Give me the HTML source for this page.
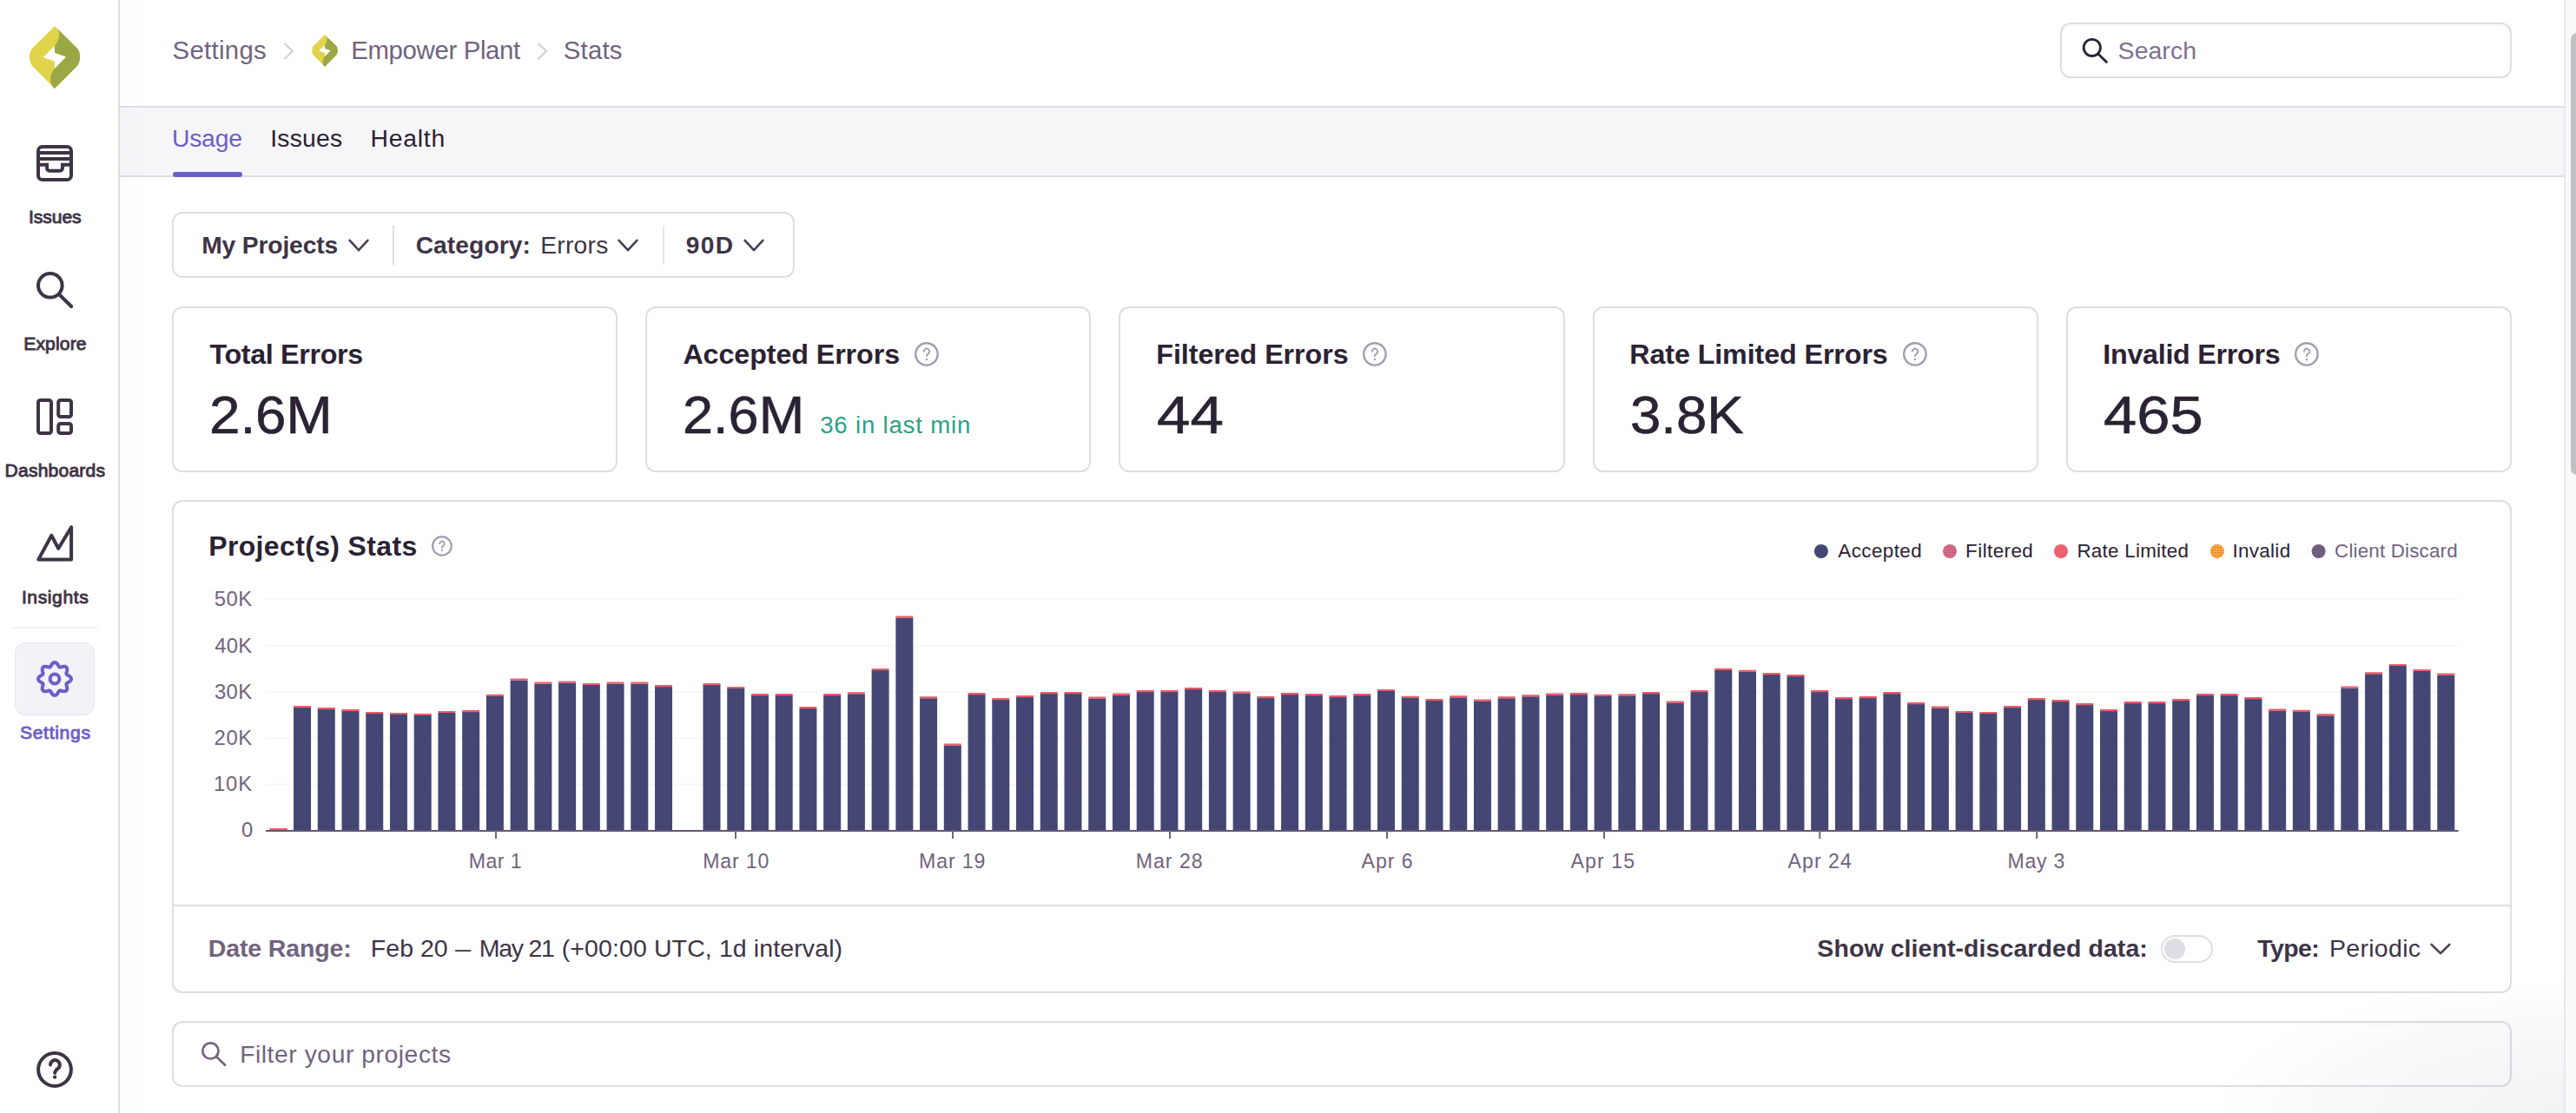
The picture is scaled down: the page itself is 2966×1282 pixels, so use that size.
<!DOCTYPE html><html lang="en"><head><meta charset="utf-8"><title>Stats - Empower Plant - Sentry</title><style>
*{box-sizing:border-box;margin:0;padding:0}
html,body{width:2966px;height:1282px;overflow:hidden;background:#fff}
body{position:relative;font-family:"Liberation Sans",sans-serif;color:#2b2233}
.t{position:absolute;white-space:nowrap;line-height:1}
.abs{position:absolute}
.box{position:absolute;border:2px solid #e0dce5;border-radius:12px;background:#fff}
svg{overflow:visible}
</style></head><body>
<div class="abs" style="left:138px;top:0;width:2814px;height:122px;background:#fff;border-bottom:0"></div>
<div class="abs" style="left:138px;top:122px;width:2814px;height:2px;background:#e0dce5"></div>
<div class="abs" style="left:138px;top:124px;width:2814px;height:78px;background:#f6f6f9"></div>
<div class="abs" style="left:138px;top:202px;width:2814px;height:2px;background:#e0dce5"></div>
<div class="abs" style="left:138px;top:0;width:36px;height:1282px;background:linear-gradient(90deg,rgba(43,34,51,.012),rgba(43,34,51,0))"></div>
<nav class="abs" style="left:0;top:0;width:138px;height:1282px;background:#fff;border-right:2px solid #e0dce5">
<svg class="abs" style="left:34px;top:30px" width="58" height="72" viewBox="200 155 645 800"><path fill="#e1d44c" d="M522 155 L235 440 Q200 478 200 550 Q200 625 235 665 L522 955 L810 665 Q845 625 845 550 Q845 478 810 440 Z"/><path fill="#9ba645" d="M558 191 L810 440 Q845 478 845 550 Q845 625 810 665 L522 955 L487 920 C452 840 468 762 522 700 L522 410 C582 330 598 262 558 191 Z"/><path fill="#fff" d="M520 410 L522 497 L668 550 L522 700 L522 610 L375 555 Z"/></svg>
<svg class="abs" style="left:42px;top:167px" width="42" height="42" viewBox="0 0 42 42" fill="none" stroke="#3e3446" stroke-width="4" stroke-linejoin="round"><rect x="2" y="2" width="38" height="38" rx="4.8"/><path stroke-linejoin="miter" d="M2 8.9H40M2 15.9H40M2 22.8H12.1V26.9a2.8 2.8 0 0 0 2.8 2.8H27.1a2.8 2.8 0 0 0 2.8-2.8V22.8H40"/></svg>
<svg class="abs" style="left:42px;top:313px" width="42" height="42" viewBox="0 0 42 42" fill="none" stroke="#3e3446" stroke-width="4" stroke-linecap="round"><circle cx="15.8" cy="15.8" r="13.8"/><path d="M26 26L40.2 40"/></svg>
<svg class="abs" style="left:42px;top:459px" width="42" height="42" viewBox="0 0 42 42" fill="none" stroke="#3e3446" stroke-width="4" stroke-linejoin="round"><rect x="2" y="2" width="15" height="38" rx="2.6"/><rect x="25.2" y="2" width="14.8" height="19" rx="2.6"/><rect x="25.2" y="29" width="14.8" height="11" rx="2.6"/></svg>
<svg class="abs" style="left:42px;top:605px" width="42" height="42" viewBox="0 0 42 42" fill="none" stroke="#3e3446" stroke-width="4" stroke-linejoin="round" stroke-linecap="round"><path d="M2.2 39.6L17.3 11.8L25.2 26.7L40.1 2.2V39.6Z"/></svg>
<div class="abs" style="left:14px;top:722.2px;width:98px;height:1.6px;background:#efedf2"></div>
<div class="abs" style="left:17px;top:740px;width:92px;height:83.5px;border-radius:12px;background:#f3f2f9;border:1.5px solid #e6e3f0"></div>
<svg class="abs" style="left:42px;top:761px" width="42" height="42" viewBox="0 0 42 42" fill="none" stroke="#6c5fc7" stroke-width="4" stroke-linejoin="round"><path d="M21.00 2.00L21.74 2.11L22.46 2.42L23.14 2.91L23.76 3.55L24.32 4.29L24.82 5.07L25.27 5.84L25.70 6.55L26.12 7.13L26.59 7.51L27.19 7.57L27.90 7.46L28.70 7.26L29.56 7.03L30.47 6.83L31.39 6.71L32.28 6.69L33.11 6.83L33.83 7.12L34.44 7.56L34.88 8.17L35.17 8.89L35.31 9.72L35.29 10.61L35.17 11.53L34.97 12.44L34.74 13.30L34.54 14.10L34.43 14.81L34.49 15.41L34.87 15.88L35.45 16.30L36.16 16.73L36.93 17.18L37.71 17.68L38.45 18.24L39.09 18.86L39.58 19.54L39.89 20.26L40.00 21.00L39.89 21.74L39.58 22.46L39.09 23.14L38.45 23.76L37.71 24.32L36.93 24.82L36.16 25.27L35.45 25.70L34.87 26.12L34.49 26.59L34.43 27.19L34.54 27.90L34.74 28.70L34.97 29.56L35.17 30.47L35.29 31.39L35.31 32.28L35.17 33.11L34.88 33.83L34.44 34.44L33.83 34.88L33.11 35.17L32.28 35.31L31.39 35.29L30.47 35.17L29.56 34.97L28.70 34.74L27.90 34.54L27.19 34.43L26.59 34.49L26.12 34.87L25.70 35.45L25.27 36.16L24.82 36.93L24.32 37.71L23.76 38.45L23.14 39.09L22.46 39.58L21.74 39.89L21.00 40.00L20.26 39.89L19.54 39.58L18.86 39.09L18.24 38.45L17.68 37.71L17.18 36.93L16.73 36.16L16.30 35.45L15.88 34.87L15.41 34.49L14.81 34.43L14.10 34.54L13.30 34.74L12.44 34.97L11.53 35.17L10.61 35.29L9.72 35.31L8.89 35.17L8.17 34.88L7.56 34.44L7.12 33.83L6.83 33.11L6.69 32.28L6.71 31.39L6.83 30.47L7.03 29.56L7.26 28.70L7.46 27.90L7.57 27.19L7.51 26.59L7.13 26.12L6.55 25.70L5.84 25.27L5.07 24.82L4.29 24.32L3.55 23.76L2.91 23.14L2.42 22.46L2.11 21.74L2.00 21.00L2.11 20.26L2.42 19.54L2.91 18.86L3.55 18.24L4.29 17.68L5.07 17.18L5.84 16.73L6.55 16.30L7.13 15.88L7.51 15.41L7.57 14.81L7.46 14.10L7.26 13.30L7.03 12.44L6.83 11.53L6.71 10.61L6.69 9.72L6.83 8.89L7.12 8.17L7.56 7.56L8.17 7.12L8.89 6.83L9.72 6.69L10.61 6.71L11.53 6.83L12.44 7.03L13.30 7.26L14.10 7.46L14.81 7.57L15.41 7.51L15.88 7.13L16.30 6.55L16.73 5.84L17.18 5.07L17.68 4.29L18.24 3.55L18.86 2.91L19.54 2.42L20.26 2.11L21.00 2.00Z"/><circle cx="21" cy="21" r="5.4"/></svg>
<svg class="abs" style="left:42px;top:1211px" width="42" height="42" viewBox="0 0 42 42" fill="none" stroke="#3e3446" stroke-width="4" stroke-linecap="round" stroke-linejoin="round"><circle cx="21" cy="21" r="18.9"/><path d="M16 15.5a5.4 5.4 0 1 1 8.6 4.4c-2.2 1.6-3.4 2.6-3.4 5.2"/><circle cx="21.1" cy="29.6" r="1.4" fill="#3e3446" stroke-width="1.6"/></svg>
<span class="t " style="left:32.90px;top:239.46px;font-size:21.08px;color:#3e3446;letter-spacing:-0.035px;-webkit-text-stroke:0.9px #3e3446;">Issues</span>
<span class="t " style="left:27.21px;top:385.26px;font-size:21.08px;color:#3e3446;letter-spacing:0.147px;-webkit-text-stroke:0.9px #3e3446;">Explore</span>
<span class="t " style="left:5.61px;top:531.16px;font-size:21.08px;color:#3e3446;letter-spacing:0.192px;-webkit-text-stroke:0.9px #3e3446;">Dashboards</span>
<span class="t " style="left:24.90px;top:677.36px;font-size:21.08px;color:#3e3446;letter-spacing:0.604px;-webkit-text-stroke:0.9px #3e3446;">Insights</span>
<span class="t " style="left:22.95px;top:833.36px;font-size:21.08px;color:#6c5fc7;letter-spacing:0.700px;-webkit-text-stroke:0.9px #6c5fc7;">Settings</span>
</nav>
<header>
<span class="t " style="left:198.58px;top:42.95px;font-size:29.36px;color:#71637e;letter-spacing:0.287px;">Settings</span>
<svg class="abs" style="left:324px;top:47px" width="18" height="24" viewBox="0 0 18 24" fill="none" stroke="#d3cedb" stroke-width="2.2" stroke-linecap="round" stroke-linejoin="round"><path d="M4 3.5L13 12L4 20.5"/></svg>
<svg class="abs" style="left:359.2px;top:39.8px" width="30" height="36.8" viewBox="200 155 645 800"><path fill="#e1d44c" d="M522 155 L235 440 Q200 478 200 550 Q200 625 235 665 L522 955 L810 665 Q845 625 845 550 Q845 478 810 440 Z"/><path fill="#9ba645" d="M558 191 L810 440 Q845 478 845 550 Q845 625 810 665 L522 955 L487 920 C452 840 468 762 522 700 L522 410 C582 330 598 262 558 191 Z"/><path fill="#fff" d="M520 410 L522 497 L668 550 L522 700 L522 610 L375 555 Z"/></svg>
<span class="t " style="left:404.15px;top:42.95px;font-size:29.36px;color:#71637e;letter-spacing:-0.331px;">Empower Plant</span>
<svg class="abs" style="left:616px;top:47px" width="18" height="24" viewBox="0 0 18 24" fill="none" stroke="#d3cedb" stroke-width="2.2" stroke-linecap="round" stroke-linejoin="round"><path d="M4 3.5L13 12L4 20.5"/></svg>
<span class="t " style="left:648.78px;top:42.95px;font-size:29.36px;color:#71637e;letter-spacing:0.202px;">Stats</span>
<div class="box" style="left:2372px;top:26px;width:520px;height:63.5px;box-shadow:inset 0 2px 2px rgba(43,34,51,.03)"></div>
<svg class="abs" style="left:2396px;top:43px" width="32" height="32" viewBox="0 0 32 32" fill="none" stroke="#2b2233" stroke-width="2.8" stroke-linecap="round"><circle cx="12.8" cy="11.9" r="9.6"/><path d="M19.8 19L29.5 28.4"/></svg>
<span class="t " style="left:2438.62px;top:43.98px;font-size:28.49px;color:#80708f;letter-spacing:0.025px;">Search</span>
</header>
<span class="t " style="left:197.97px;top:145.31px;font-size:28.34px;color:#6c5fc7;letter-spacing:-0.238px;">Usage</span>
<div class="abs" style="left:198.5px;top:197.8px;width:80.7px;height:6.2px;border-radius:3.1px;background:#6c5fc7"></div>
<span class="t " style="left:311.25px;top:145.31px;font-size:28.34px;color:#2b2233;letter-spacing:0.206px;">Issues</span>
<span class="t " style="left:426.53px;top:145.31px;font-size:28.34px;color:#2b2233;letter-spacing:0.771px;">Health</span>
<div class="box" style="left:198px;top:244px;width:717px;height:76px"></div>
<span class="t " style="left:232.17px;top:267.83px;font-size:28.20px;color:#3e3446;letter-spacing:-0.123px;font-weight:700;">My Projects</span>
<svg class="abs" style="left:401px;top:275px" width="24" height="15" viewBox="0 0 24 15" fill="none" stroke="#4a3f55" stroke-width="2.6" stroke-linecap="round" stroke-linejoin="round"><path d="M1.6 1.8L12.0 13.2L22.4 1.8"/></svg>
<div class="abs" style="left:452px;top:259.5px;width:2px;height:45px;background:#e0dce5"></div>
<span class="t " style="left:478.67px;top:267.83px;font-size:28.20px;color:#3e3446;letter-spacing:0.090px;font-weight:700;">Category:</span>
<span class="t " style="left:622.14px;top:267.83px;font-size:28.20px;color:#3e3446;letter-spacing:0.289px;">Errors</span>
<svg class="abs" style="left:711px;top:275px" width="24" height="15" viewBox="0 0 24 15" fill="none" stroke="#4a3f55" stroke-width="2.6" stroke-linecap="round" stroke-linejoin="round"><path d="M1.6 1.8L12.0 13.2L22.4 1.8"/></svg>
<div class="abs" style="left:762.6px;top:259.5px;width:2px;height:45px;background:#e8e5ec"></div>
<span class="t " style="left:789.81px;top:267.83px;font-size:28.20px;color:#3e3446;letter-spacing:1.357px;font-weight:700;">90D</span>
<svg class="abs" style="left:855.5px;top:275px" width="24" height="15" viewBox="0 0 24 15" fill="none" stroke="#4a3f55" stroke-width="2.6" stroke-linecap="round" stroke-linejoin="round"><path d="M1.6 1.8L12.0 13.2L22.4 1.8"/></svg>
<div class="box" style="left:198.0px;top:352.5px;width:513.2px;height:191px"></div>
<div class="box" style="left:743.2px;top:352.5px;width:513.2px;height:191px"></div>
<div class="box" style="left:1288.4px;top:352.5px;width:513.2px;height:191px"></div>
<div class="box" style="left:1833.6px;top:352.5px;width:513.2px;height:191px"></div>
<div class="box" style="left:2378.8px;top:352.5px;width:513.2px;height:191px"></div>
<span class="t " style="left:241.48px;top:391.79px;font-size:32.27px;color:#2b2233;letter-spacing:-0.338px;font-weight:700;">Total Errors</span>
<span class="t " style="left:240.52px;top:447.39px;font-size:61.92px;color:#2b2233;-webkit-text-stroke:0.6px #2b2233;transform:scaleX(1.0284);transform-origin:0 50%;">2.6M</span>
<span class="t " style="left:786.39px;top:391.79px;font-size:32.27px;color:#2b2233;letter-spacing:-0.096px;font-weight:700;">Accepted Errors</span>
<svg class="abs" style="left:1053.3px;top:393.7px" width="27.8" height="27.8" viewBox="0 0 27 27" fill="none" stroke="#a29cb0" stroke-width="2.33" stroke-linecap="round" stroke-linejoin="round"><circle cx="13.5" cy="13.5" r="12.33"/><path stroke-width="1.85" d="M10.5 10.4a3.1 3.1 0 1 1 4.9 2.6c-1.3 .9-1.9 1.5-1.9 2.9"/><circle cx="13.5" cy="19.4" r="0.6" fill="#a29cb0" stroke-width="1.2"/></svg>
<span class="t " style="left:786.15px;top:447.39px;font-size:61.92px;color:#2b2233;-webkit-text-stroke:0.6px #2b2233;transform:scaleX(1.0184);transform-origin:0 50%;">2.6M</span>
<span class="t " style="left:1331.30px;top:391.79px;font-size:32.27px;color:#2b2233;letter-spacing:-0.074px;font-weight:700;">Filtered Errors</span>
<svg class="abs" style="left:1569.3px;top:393.7px" width="27.8" height="27.8" viewBox="0 0 27 27" fill="none" stroke="#a29cb0" stroke-width="2.33" stroke-linecap="round" stroke-linejoin="round"><circle cx="13.5" cy="13.5" r="12.33"/><path stroke-width="1.85" d="M10.5 10.4a3.1 3.1 0 1 1 4.9 2.6c-1.3 .9-1.9 1.5-1.9 2.9"/><circle cx="13.5" cy="19.4" r="0.6" fill="#a29cb0" stroke-width="1.2"/></svg>
<span class="t " style="left:1332.02px;top:447.39px;font-size:61.92px;color:#2b2233;-webkit-text-stroke:0.6px #2b2233;transform:scaleX(1.1176);transform-origin:0 50%;">44</span>
<span class="t " style="left:1876.30px;top:391.79px;font-size:32.27px;color:#2b2233;letter-spacing:-0.109px;font-weight:700;">Rate Limited Errors</span>
<svg class="abs" style="left:2191.2px;top:393.7px" width="27.8" height="27.8" viewBox="0 0 27 27" fill="none" stroke="#a29cb0" stroke-width="2.33" stroke-linecap="round" stroke-linejoin="round"><circle cx="13.5" cy="13.5" r="12.33"/><path stroke-width="1.85" d="M10.5 10.4a3.1 3.1 0 1 1 4.9 2.6c-1.3 .9-1.9 1.5-1.9 2.9"/><circle cx="13.5" cy="19.4" r="0.6" fill="#a29cb0" stroke-width="1.2"/></svg>
<span class="t " style="left:1876.77px;top:447.39px;font-size:61.92px;color:#2b2233;-webkit-text-stroke:0.6px #2b2233;transform:scaleX(1.0269);transform-origin:0 50%;">3.8K</span>
<span class="t " style="left:2421.30px;top:391.79px;font-size:32.27px;color:#2b2233;letter-spacing:-0.283px;font-weight:700;">Invalid Errors</span>
<svg class="abs" style="left:2642.2px;top:393.7px" width="27.8" height="27.8" viewBox="0 0 27 27" fill="none" stroke="#a29cb0" stroke-width="2.33" stroke-linecap="round" stroke-linejoin="round"><circle cx="13.5" cy="13.5" r="12.33"/><path stroke-width="1.85" d="M10.5 10.4a3.1 3.1 0 1 1 4.9 2.6c-1.3 .9-1.9 1.5-1.9 2.9"/><circle cx="13.5" cy="19.4" r="0.6" fill="#a29cb0" stroke-width="1.2"/></svg>
<span class="t " style="left:2422.03px;top:447.39px;font-size:61.92px;color:#2b2233;-webkit-text-stroke:0.6px #2b2233;transform:scaleX(1.1099);transform-origin:0 50%;">465</span>
<span class="t " style="left:944.23px;top:476.32px;font-size:27.62px;color:#2ba185;letter-spacing:0.797px;">36 in last min</span>
<div class="box" style="left:198px;top:576px;width:2694px;height:568px"></div>
<div class="abs" style="left:200px;top:1042px;width:2690px;height:2px;background:#e0dce5"></div>
<span class="t " style="left:240.22px;top:612.63px;font-size:31.98px;color:#2b2233;letter-spacing:0.367px;font-weight:700;">Project(s) Stats</span>
<svg class="abs" style="left:497.1px;top:617.0px" width="23.8" height="23.8" viewBox="0 0 27 27" fill="none" stroke="#a29cb0" stroke-width="2.50" stroke-linecap="round" stroke-linejoin="round"><circle cx="13.5" cy="13.5" r="12.25"/><path stroke-width="2.16" d="M10.5 10.4a3.1 3.1 0 1 1 4.9 2.6c-1.3 .9-1.9 1.5-1.9 2.9"/><circle cx="13.5" cy="19.4" r="0.6" fill="#a29cb0" stroke-width="1.2"/></svg>
<svg class="abs" style="left:2080px;top:620px" width="620" height="30" viewBox="2080 620 620 30"><defs><pattern id="pf" width="3" height="3" patternUnits="userSpaceOnUse"><rect width="3" height="3" fill="#d96a83"/><rect width="1.2" height="1.2" fill="#9c5a8a"/></pattern><pattern id="pi" width="3" height="3" patternUnits="userSpaceOnUse"><rect width="3" height="3" fill="#f6b12c"/><rect width="1.4" height="1.4" fill="#e8566d"/></pattern></defs>
<circle cx="2096.9" cy="635" r="8" fill="#444674"/>
<circle cx="2245" cy="635" r="8" fill="url(#pf)"/>
<circle cx="2373" cy="635" r="8" fill="#e9626e"/>
<circle cx="2552.9" cy="635" r="8" fill="url(#pi)"/>
<circle cx="2669.6" cy="635" r="8" fill="#6f5f7f"/>
</svg>
<span class="t " style="left:2116.30px;top:623.95px;font-size:22.38px;color:#2b2233;letter-spacing:0.443px;">Accepted</span>
<span class="t " style="left:2263.11px;top:623.95px;font-size:22.38px;color:#2b2233;letter-spacing:0.441px;">Filtered</span>
<span class="t " style="left:2391.41px;top:623.95px;font-size:22.38px;color:#2b2233;letter-spacing:0.268px;">Rate Limited</span>
<span class="t " style="left:2570.39px;top:623.95px;font-size:22.38px;color:#2b2233;letter-spacing:0.345px;">Invalid</span>
<span class="t " style="left:2688.08px;top:623.95px;font-size:22.38px;color:#71637e;letter-spacing:0.179px;">Client Discard</span>
<span class="t " style="left:277.90px;top:944.32px;font-size:23.84px;color:#71637e;">0</span>
<span class="t " style="left:246.01px;top:891.12px;font-size:23.84px;color:#71637e;letter-spacing:0.858px;">10K</span>
<span class="t " style="left:246.61px;top:837.92px;font-size:23.84px;color:#71637e;letter-spacing:0.560px;">20K</span>
<span class="t " style="left:246.97px;top:784.72px;font-size:23.84px;color:#71637e;letter-spacing:0.381px;">30K</span>
<span class="t " style="left:247.32px;top:731.52px;font-size:23.84px;color:#71637e;letter-spacing:0.202px;">40K</span>
<span class="t " style="left:246.85px;top:678.32px;font-size:23.84px;color:#71637e;letter-spacing:0.440px;">50K</span>
<svg class="chart" width="2694" height="330" viewBox="198 680 2694 330" style="position:absolute;left:198px;top:680px">
<rect x="306" y="902.4" width="2524.6" height="2" fill="#f8f7fa"/>
<rect x="306" y="849.2" width="2524.6" height="2" fill="#f8f7fa"/>
<rect x="306" y="796.0" width="2524.6" height="2" fill="#f8f7fa"/>
<rect x="306" y="742.8" width="2524.6" height="2" fill="#f8f7fa"/>
<rect x="306" y="689.6" width="2524.6" height="2" fill="#f8f7fa"/>
<path fill="#444674" d="M338.03 815.0h20.0V956.5h-20.0zM365.77 817.0h20.0V956.5h-20.0zM393.50 819.0h20.0V956.5h-20.0zM421.23 821.9h20.0V956.5h-20.0zM448.97 822.9h20.0V956.5h-20.0zM476.70 823.9h20.0V956.5h-20.0zM504.43 820.9h20.0V956.5h-20.0zM532.16 820.0h20.0V956.5h-20.0zM559.90 801.8h20.0V956.5h-20.0zM587.63 783.4h20.0V956.5h-20.0zM615.36 787.4h20.0V956.5h-20.0zM643.10 786.4h20.0V956.5h-20.0zM670.83 788.9h20.0V956.5h-20.0zM698.56 787.4h20.0V956.5h-20.0zM726.30 787.4h20.0V956.5h-20.0zM754.03 791.1h20.0V956.5h-20.0zM809.49 789.1h20.0V956.5h-20.0zM837.23 792.9h20.0V956.5h-20.0zM864.96 801.1h20.0V956.5h-20.0zM892.69 801.1h20.0V956.5h-20.0zM920.43 816.0h20.0V956.5h-20.0zM948.16 801.1h20.0V956.5h-20.0zM975.89 799.3h20.0V956.5h-20.0zM1003.62 772.0h20.0V956.5h-20.0zM1031.36 711.4h20.0V956.5h-20.0zM1059.09 804.3h20.0V956.5h-20.0zM1086.82 858.5h20.0V956.5h-20.0zM1114.56 800.1h20.0V956.5h-20.0zM1142.29 806.0h20.0V956.5h-20.0zM1170.02 803.1h20.0V956.5h-20.0zM1197.76 799.1h20.0V956.5h-20.0zM1225.49 799.1h20.0V956.5h-20.0zM1253.22 804.5h20.0V956.5h-20.0zM1280.95 800.6h20.0V956.5h-20.0zM1308.69 797.1h20.0V956.5h-20.0zM1336.42 797.1h20.0V956.5h-20.0zM1364.15 794.1h20.0V956.5h-20.0zM1391.89 797.1h20.0V956.5h-20.0zM1419.62 798.6h20.0V956.5h-20.0zM1447.35 804.0h20.0V956.5h-20.0zM1475.09 800.1h20.0V956.5h-20.0zM1502.82 801.1h20.0V956.5h-20.0zM1530.55 803.1h20.0V956.5h-20.0zM1558.29 801.1h20.0V956.5h-20.0zM1586.02 795.9h20.0V956.5h-20.0zM1613.75 803.8h20.0V956.5h-20.0zM1641.48 807.0h20.0V956.5h-20.0zM1669.22 803.3h20.0V956.5h-20.0zM1696.95 807.5h20.0V956.5h-20.0zM1724.68 804.3h20.0V956.5h-20.0zM1752.42 802.3h20.0V956.5h-20.0zM1780.15 800.6h20.0V956.5h-20.0zM1807.88 800.1h20.0V956.5h-20.0zM1835.62 801.8h20.0V956.5h-20.0zM1863.35 801.3h20.0V956.5h-20.0zM1891.08 799.1h20.0V956.5h-20.0zM1918.81 809.5h20.0V956.5h-20.0zM1946.55 797.1h20.0V956.5h-20.0zM1974.28 771.8h20.0V956.5h-20.0zM2002.01 773.7h20.0V956.5h-20.0zM2029.75 777.0h20.0V956.5h-20.0zM2057.48 779.0h20.0V956.5h-20.0zM2085.21 797.1h20.0V956.5h-20.0zM2112.95 805.0h20.0V956.5h-20.0zM2140.68 804.0h20.0V956.5h-20.0zM2168.41 799.1h20.0V956.5h-20.0zM2196.14 811.0h20.0V956.5h-20.0zM2223.88 815.5h20.0V956.5h-20.0zM2251.61 820.9h20.0V956.5h-20.0zM2279.34 821.9h20.0V956.5h-20.0zM2307.08 815.0h20.0V956.5h-20.0zM2334.81 806.0h20.0V956.5h-20.0zM2362.54 808.0h20.0V956.5h-20.0zM2390.28 812.0h20.0V956.5h-20.0zM2418.01 819.0h20.0V956.5h-20.0zM2445.74 810.0h20.0V956.5h-20.0zM2473.47 810.0h20.0V956.5h-20.0zM2501.21 807.0h20.0V956.5h-20.0zM2528.94 801.1h20.0V956.5h-20.0zM2556.67 801.1h20.0V956.5h-20.0zM2584.41 805.0h20.0V956.5h-20.0zM2612.14 818.5h20.0V956.5h-20.0zM2639.87 819.7h20.0V956.5h-20.0zM2667.61 824.2h20.0V956.5h-20.0zM2695.34 792.4h20.0V956.5h-20.0zM2723.07 776.2h20.0V956.5h-20.0zM2750.80 766.9h20.0V956.5h-20.0zM2778.54 772.9h20.0V956.5h-20.0zM2806.27 777.6h20.0V956.5h-20.0z"/>
<path fill="#eb5b69" d="M310.30 954.0h20.6V956.0h-20.6zM338.03 813.0h20.0v2.2h-20.0zM365.77 815.0h20.0v2.2h-20.0zM393.50 817.0h20.0v2.2h-20.0zM421.23 819.9h20.0v2.2h-20.0zM448.97 820.9h20.0v2.2h-20.0zM476.70 821.9h20.0v2.2h-20.0zM504.43 818.9h20.0v2.2h-20.0zM532.16 818.0h20.0v2.2h-20.0zM559.90 799.8h20.0v2.2h-20.0zM587.63 781.4h20.0v2.2h-20.0zM615.36 785.4h20.0v2.2h-20.0zM643.10 784.4h20.0v2.2h-20.0zM670.83 786.9h20.0v2.2h-20.0zM698.56 785.4h20.0v2.2h-20.0zM726.30 785.4h20.0v2.2h-20.0zM754.03 789.1h20.0v2.2h-20.0zM809.49 787.1h20.0v2.2h-20.0zM837.23 790.9h20.0v2.2h-20.0zM864.96 799.1h20.0v2.2h-20.0zM892.69 799.1h20.0v2.2h-20.0zM920.43 814.0h20.0v2.2h-20.0zM948.16 799.1h20.0v2.2h-20.0zM975.89 797.3h20.0v2.2h-20.0zM1003.62 770.0h20.0v2.2h-20.0zM1031.36 709.4h20.0v2.2h-20.0zM1059.09 802.3h20.0v2.2h-20.0zM1086.82 856.5h20.0v2.2h-20.0zM1114.56 798.1h20.0v2.2h-20.0zM1142.29 804.0h20.0v2.2h-20.0zM1170.02 801.1h20.0v2.2h-20.0zM1197.76 797.1h20.0v2.2h-20.0zM1225.49 797.1h20.0v2.2h-20.0zM1253.22 802.5h20.0v2.2h-20.0zM1280.95 798.6h20.0v2.2h-20.0zM1308.69 795.1h20.0v2.2h-20.0zM1336.42 795.1h20.0v2.2h-20.0zM1364.15 792.1h20.0v2.2h-20.0zM1391.89 795.1h20.0v2.2h-20.0zM1419.62 796.6h20.0v2.2h-20.0zM1447.35 802.0h20.0v2.2h-20.0zM1475.09 798.1h20.0v2.2h-20.0zM1502.82 799.1h20.0v2.2h-20.0zM1530.55 801.1h20.0v2.2h-20.0zM1558.29 799.1h20.0v2.2h-20.0zM1586.02 793.9h20.0v2.2h-20.0zM1613.75 801.8h20.0v2.2h-20.0zM1641.48 805.0h20.0v2.2h-20.0zM1669.22 801.3h20.0v2.2h-20.0zM1696.95 805.5h20.0v2.2h-20.0zM1724.68 802.3h20.0v2.2h-20.0zM1752.42 800.3h20.0v2.2h-20.0zM1780.15 798.6h20.0v2.2h-20.0zM1807.88 798.1h20.0v2.2h-20.0zM1835.62 799.8h20.0v2.2h-20.0zM1863.35 799.3h20.0v2.2h-20.0zM1891.08 797.1h20.0v2.2h-20.0zM1918.81 807.5h20.0v2.2h-20.0zM1946.55 795.1h20.0v2.2h-20.0zM1974.28 769.8h20.0v2.2h-20.0zM2002.01 771.7h20.0v2.2h-20.0zM2029.75 775.0h20.0v2.2h-20.0zM2057.48 777.0h20.0v2.2h-20.0zM2085.21 795.1h20.0v2.2h-20.0zM2112.95 803.0h20.0v2.2h-20.0zM2140.68 802.0h20.0v2.2h-20.0zM2168.41 797.1h20.0v2.2h-20.0zM2196.14 809.0h20.0v2.2h-20.0zM2223.88 813.5h20.0v2.2h-20.0zM2251.61 818.9h20.0v2.2h-20.0zM2279.34 819.9h20.0v2.2h-20.0zM2307.08 813.0h20.0v2.2h-20.0zM2334.81 804.0h20.0v2.2h-20.0zM2362.54 806.0h20.0v2.2h-20.0zM2390.28 810.0h20.0v2.2h-20.0zM2418.01 817.0h20.0v2.2h-20.0zM2445.74 808.0h20.0v2.2h-20.0zM2473.47 808.0h20.0v2.2h-20.0zM2501.21 805.0h20.0v2.2h-20.0zM2528.94 799.1h20.0v2.2h-20.0zM2556.67 799.1h20.0v2.2h-20.0zM2584.41 803.0h20.0v2.2h-20.0zM2612.14 816.5h20.0v2.2h-20.0zM2639.87 817.7h20.0v2.2h-20.0zM2667.61 822.2h20.0v2.2h-20.0zM2695.34 790.4h20.0v2.2h-20.0zM2723.07 774.2h20.0v2.2h-20.0zM2750.80 764.9h20.0v2.2h-20.0zM2778.54 770.9h20.0v2.2h-20.0zM2806.27 775.6h20.0v2.2h-20.0z"/>
<rect x="306" y="956.0" width="2524.6" height="2" fill="#655575"/>
<rect x="570.0" y="956.0" width="2" height="10" fill="#71637e"/>
<rect x="846.0" y="956.0" width="2" height="10" fill="#71637e"/>
<rect x="1096.0" y="956.0" width="2" height="10" fill="#71637e"/>
<rect x="1346.0" y="956.0" width="2" height="10" fill="#71637e"/>
<rect x="1596.0" y="956.0" width="2" height="10" fill="#71637e"/>
<rect x="1846.0" y="956.0" width="2" height="10" fill="#71637e"/>
<rect x="2094.3" y="956.0" width="2" height="10" fill="#71637e"/>
<rect x="2344.2" y="956.0" width="2" height="10" fill="#71637e"/>
</svg>
<span class="t " style="left:539.75px;top:980.74px;font-size:23.11px;color:#71637e;letter-spacing:0.460px;">Mar 1</span>
<span class="t " style="left:809.25px;top:980.74px;font-size:23.11px;color:#71637e;letter-spacing:0.837px;">Mar 10</span>
<span class="t " style="left:1058.05px;top:980.74px;font-size:23.11px;color:#71637e;letter-spacing:0.883px;">Mar 19</span>
<span class="t " style="left:1307.75px;top:980.74px;font-size:23.11px;color:#71637e;letter-spacing:0.980px;">Mar 28</span>
<span class="t " style="left:1567.50px;top:980.74px;font-size:23.11px;color:#71637e;letter-spacing:0.973px;">Apr 6</span>
<span class="t " style="left:1808.60px;top:980.74px;font-size:23.11px;color:#71637e;letter-spacing:1.093px;">Apr 15</span>
<span class="t " style="left:2058.60px;top:980.74px;font-size:23.11px;color:#71637e;letter-spacing:1.023px;">Apr 24</span>
<span class="t " style="left:2311.45px;top:980.74px;font-size:23.11px;color:#71637e;letter-spacing:0.728px;">May 3</span>
<span class="t " style="left:239.75px;top:1078.18px;font-size:28.49px;color:#71637e;letter-spacing:-0.117px;font-weight:700;">Date Range:</span>
<span class="abs" style="left:428px;top:1074.3px;width:545px;height:36px">
<span class="t " style="left:-1.18px;top:3.88px;font-size:28.49px;color:#3e3446;letter-spacing:0.035px;">Feb 20</span>
<span class="t" style="left:96.3px;top:3.88px;font-size:28.49px;color:#3e3446;transform:scaleX(.64);transform-origin:0 50%">—</span>
<span class="t " style="left:123.82px;top:3.88px;font-size:28.49px;color:#3e3446;letter-spacing:-1.256px;">May 21</span>
<span class="t " style="left:218.69px;top:3.88px;font-size:28.49px;color:#3e3446;letter-spacing:0.116px;">(+00:00 UTC, 1d interval)</span>
</span>
<span class="t " style="left:2092.35px;top:1078.18px;font-size:28.49px;color:#3e3446;letter-spacing:0.084px;font-weight:700;">Show client-discarded data:</span>
<div class="abs" style="left:2488px;top:1077.3px;width:59.7px;height:31.4px;border-radius:16px;border:2px solid #e0dce5;background:#fff;box-shadow:inset 0 2px 2px rgba(43,34,51,.03)"></div>
<div class="abs" style="left:2491.8px;top:1080.9px;width:24.2px;height:24.2px;border-radius:50%;background:#e0dce5"></div>
<span class="t " style="left:2599.22px;top:1078.18px;font-size:28.49px;color:#3e3446;letter-spacing:-0.559px;font-weight:700;">Type:</span>
<span class="t " style="left:2682.02px;top:1078.18px;font-size:28.49px;color:#3e3446;letter-spacing:0.301px;">Periodic</span>
<svg class="abs" style="left:2798.2px;top:1086.2px" width="24" height="14" viewBox="0 0 24 14" fill="none" stroke="#4a3f55" stroke-width="2.6" stroke-linecap="round" stroke-linejoin="round"><path d="M1.6 1.8L12.0 12.2L22.4 1.8"/></svg>
<div class="box" style="left:198px;top:1176px;width:2694px;height:75.5px;box-shadow:inset 0 2px 2px rgba(43,34,51,.03)"></div>
<svg class="abs" style="left:230px;top:1198px" width="32" height="32" viewBox="0 0 32 32" fill="none" stroke="#71637e" stroke-width="2.7" stroke-linecap="round"><circle cx="12.4" cy="12.4" r="9.1"/><path d="M19.2 19.3L29 28.8"/></svg>
<span class="t " style="left:276.14px;top:1199.93px;font-size:28.20px;color:#71637e;letter-spacing:0.585px;">Filter your projects</span>
<div class="abs" style="left:2560px;top:1130px;width:406px;height:152px;background:radial-gradient(ellipse at 100% 100%,rgba(70,60,100,.07),rgba(70,60,100,.03) 45%,rgba(70,60,100,0) 75%)"></div>
<div class="abs" style="left:2952px;top:0;width:14px;height:1282px;background:#fafafa;border-left:2px solid #e8e7ec"></div>
<div class="abs" style="left:2960px;top:38px;width:14px;height:509px;border-radius:7px;background:#c1c0c5"></div>
</body></html>
